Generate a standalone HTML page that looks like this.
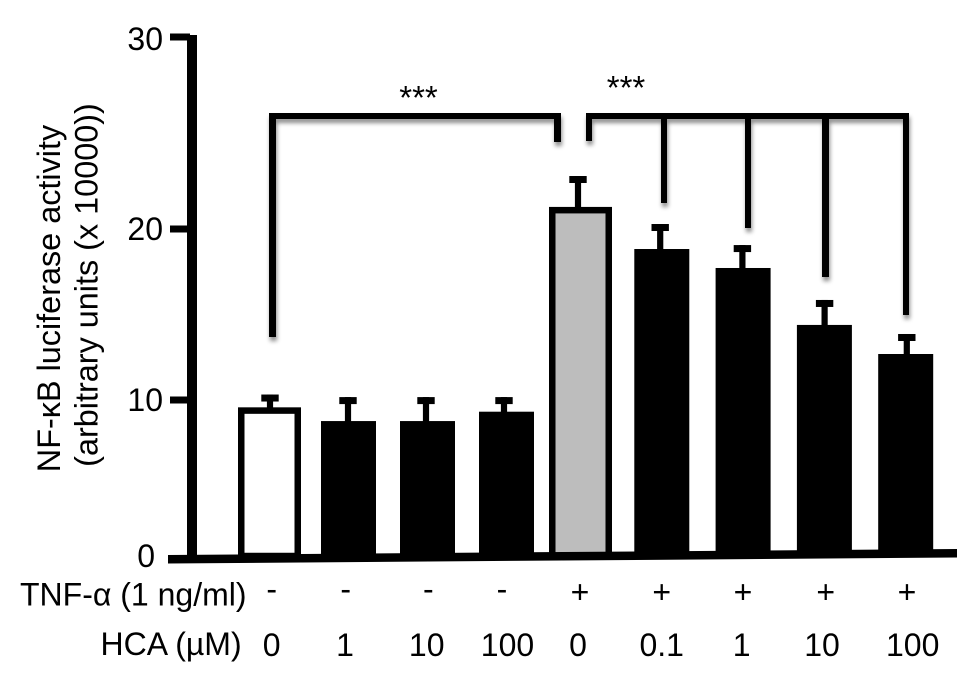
<!DOCTYPE html>
<html lang="en">
<head>
<meta charset="utf-8">
<title>NF-κB luciferase activity</title>
<style>
html,body{margin:0;padding:0;background:#fff;}
svg{display:block;}
text{font-family:"Liberation Sans",Arial,sans-serif;fill:#000;}
</style>
</head>
<body>
<svg id="chart" width="980" height="697" viewBox="0 0 980 697" xmlns="http://www.w3.org/2000/svg">
  <defs>
    <filter id="soft" x="-20%" y="-20%" width="140%" height="140%">
      <feDropShadow dx="1" dy="4" stdDeviation="2" flood-color="#000" flood-opacity="0.45"/>
    </filter>
  </defs>
  <rect x="0" y="0" width="980" height="697" fill="#fff"/>

  <g id="bars"></g>
  <g id="errors"></g>

  <polygon points="168,555 168,563.5 957,557.5 957,549" fill="#000"/>
  <rect x="187" y="35" width="10" height="523" fill="#000"/>
  <g id="yticks"></g>

  <g font-size="32.4">
    <text transform="translate(60,298.5) rotate(-90)" text-anchor="middle">NF-κB luciferase activity</text>
    <text transform="translate(97.5,285) rotate(-90)" text-anchor="middle">(arbitrary units (x 10000))</text>
  </g>

  <g fill="#000" filter="url(#soft)">
    <path d="M269 113H561V142H554V119H276V337H269Z"/>
    <path d="M586 113H909V315H903V119H829V277H822V119H751V228H745V119H667V203H661V119H592V141H586Z"/>
  </g>
  <text x="418.5" y="109" font-size="33" text-anchor="middle">***</text>
  <text x="626" y="99" font-size="33" text-anchor="middle">***</text>

  <g font-size="32">
    <text x="20" y="605.5">TNF-α (1 ng/ml)</text>
    <g text-anchor="middle">
      <text x="271.7" y="600">-</text>
      <text x="345.7" y="600">-</text>
      <text x="428.3" y="600">-</text>
      <text x="502" y="600">-</text>
      <text x="580" y="603">+</text>
      <text x="661.7" y="603">+</text>
      <text x="743" y="603">+</text>
      <text x="825.7" y="603">+</text>
      <text x="907" y="603">+</text>
    </g>
  </g>
  <g font-size="32">
    <text x="100.5" y="655">HCA (µM)</text>
    <g text-anchor="middle">
      <text x="271.7" y="656">0</text>
      <text x="345" y="656">1</text>
      <text x="426.7" y="656">10</text>
      <text x="507.5" y="656">100</text>
      <text x="578" y="656">0</text>
      <text x="661.7" y="656">0.1</text>
      <text x="741.7" y="656">1</text>
      <text x="822" y="656">10</text>
      <text x="912.7" y="656">100</text>
    </g>
  </g>
</svg>
<script>
var tnfFlags = ['-', '-', '-', '-', '+', '+', '+', '+', '+'];
var hcaDoses = ['0', '1', '10', '100', '0', '0.1', '1', '10', '100'];
var means = [9.53, 8.65, 8.65, 9.25, 21.15, 18.83, 17.72, 14.39, 12.69];
var errors = [0.79, 1.52, 1.52, 0.92, 1.61, 1.43, 1.34, 1.46, 1.17];
var yTickValues = [0, 10, 20, 30];

var NS = 'http://www.w3.org/2000/svg';

// The printed axis is not evenly spaced; each decade has its own scale.
function yScale(v) {
  if (v <= 10) return 556 - 15.6 * v;
  if (v <= 20) return 400 - 17.1 * (v - 10);
  return 229 - 19.2 * (v - 20);
}
// The two treatment groups sit at slightly different spacing.
function xScale(i) {
  if (i <= 3) return 269.5 + 79 * i;
  return 580.5 + 81.3 * (i - 4);
}
function errXScale(i) {
  if (i <= 3) return 270 + 78 * i;
  return 578 + 82.2 * (i - 4);
}
function make(tag, attrs, parent) {
  var el = document.createElementNS(NS, tag);
  for (var k in attrs) el.setAttribute(k, attrs[k]);
  parent.appendChild(el);
  return el;
}

var barsG = document.getElementById('bars');
var errG = document.getElementById('errors');
var tickG = document.getElementById('yticks');
var baseY = yScale(0);

means.forEach(function (m, i) {
  var cx = xScale(i);
  var isBaseline = hcaDoses[i] === '0';
  var top = yScale(m);
  var capTop = yScale(m + errors[i]);
  var stemX = errXScale(i);

  var stem = make('rect', {x: stemX - 3.1, y: capTop, width: 6.2, height: top - capTop + 2, fill: '#000'}, errG);
  
  

  var cap = make('rect', {x: stemX - 8.7, y: capTop, width: 17.4, height: 7, fill: '#000'}, errG);
  
  

  var bar;
  if (isBaseline) {
    var w = 63;
    var b = 6.5;
    bar = make('rect', {
      x: cx - w / 2 + b / 2,
      y: top + b / 2,
      width: w - b,
      height: baseY - top - b / 2,
      fill: tnfFlags[i] === '+' ? '#bdbdbd' : '#ffffff',
      stroke: '#000',
      'stroke-width': b
    }, barsG);
  } else {
    var sw = 55;
    bar = make('rect', {x: cx - sw / 2, y: top, width: sw, height: baseY - top, fill: '#000'}, barsG);
  }
  
  
});

yTickValues.forEach(function (t) {
  var y = yScale(t);
  if (t > 0) {
    var tick = make('rect', {x: 170, y: y - 3.5, width: 20, height: 7, fill: '#000'}, tickG);
    
    
  }
  var label = make('text', {
    x: t === 0 ? 155 : 163,
    y: y + (t === 30 ? 13 : 11),
    'font-size': 32,
    'text-anchor': 'end'
  }, tickG);
  label.textContent = String(t);
  
  
});
</script>
</body>
</html>
